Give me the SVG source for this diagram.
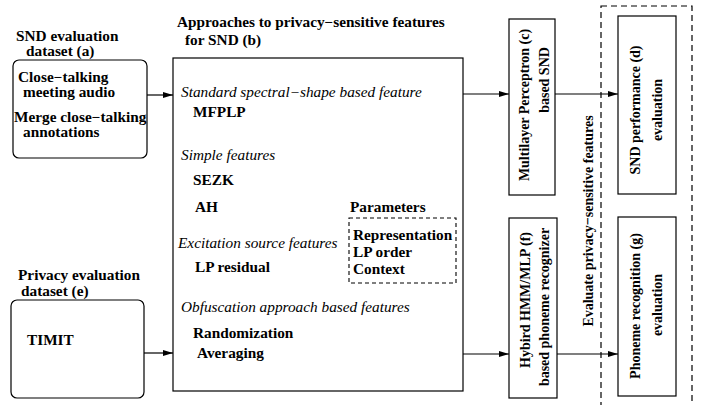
<svg xmlns="http://www.w3.org/2000/svg" width="707" height="405" viewBox="0 0 707 405" font-family="'Liberation Serif', 'Times New Roman', Times, serif" font-size="14">
<defs>
<marker id="arr" viewBox="0 0 10 6" refX="10" refY="3" markerWidth="10" markerHeight="6" markerUnits="userSpaceOnUse" orient="auto">
<path d="M0,0 L10,3 L0,6 Z" fill="#000"/>
</marker>
<style>
.b{font-weight:bold}
.i{font-style:italic}
.box{fill:#fff;stroke:#000;stroke-width:1.2}
.dash{fill:none;stroke:#000;stroke-width:1.2;stroke-dasharray:6 4}
.dash2{fill:none;stroke:#000;stroke-width:1.1;stroke-dasharray:4 3}
.con{stroke:#000;stroke-width:1.2;fill:none;marker-end:url(#arr)}
.v{text-anchor:middle}
</style>
</defs>
<rect width="707" height="405" fill="#fff"/>
<g id="evalgroup">
<rect class="dash" x="601" y="6" width="91" height="410"/>
</g>
<g id="connectors">
<line class="con" x1="147" y1="95" x2="173" y2="95"/>
<line class="con" x1="144" y1="353" x2="173" y2="353"/>
<line class="con" x1="463" y1="94" x2="509" y2="94"/>
<line class="con" x1="555" y1="94" x2="618" y2="94"/>
<line class="con" x1="463" y1="354" x2="509" y2="354"/>
<line class="con" x1="557" y1="354" x2="618" y2="354"/>
</g>
<g id="nodeA">
<text class="b" transform="translate(16,41) scale(1.094,1)">SND evaluation</text>
<text class="b" transform="translate(26,56) scale(1.094,1)">dataset (a)</text>
<rect class="box" x="13" y="60" width="134" height="98" rx="6"/>
<text class="b" transform="translate(18,82) scale(1.094,1)">Close−talking</text>
<text class="b" transform="translate(23,97) scale(1.094,1)">meeting audio</text>
<text class="b" transform="translate(14,122) scale(1.094,1)">Merge close−talking</text>
<text class="b" transform="translate(23,137) scale(1.094,1)">annotations</text>
</g>
<g id="nodeB">
<text class="b" transform="translate(177,27) scale(1.094,1)">Approaches to privacy−sensitive features</text>
<text class="b" transform="translate(185,45) scale(1.094,1)">for SND (b)</text>
<rect class="box" x="173" y="58" width="290" height="333"/>
<text class="i" transform="translate(181,97) scale(1.094,1)">Standard spectral−shape based feature</text>
<text class="b" transform="translate(193,117) scale(1.094,1)">MFPLP</text>
<text class="i" transform="translate(181,160) scale(1.094,1)">Simple features</text>
<text class="b" transform="translate(193,185) scale(1.094,1)">SEZK</text>
<text class="b" transform="translate(195,212) scale(1.094,1)">AH</text>
<text class="i" transform="translate(178,248) scale(1.094,1)">Excitation source features</text>
<text class="b" transform="translate(195,272) scale(1.094,1)">LP residual</text>
<text class="i" transform="translate(181,312) scale(1.094,1)">Obfuscation approach based features</text>
<text class="b" transform="translate(193,338) scale(1.094,1)">Randomization</text>
<text class="b" transform="translate(197,358) scale(1.094,1)">Averaging</text>
</g>
<g id="parameters">
<text class="b" transform="translate(350,212) scale(1.094,1)">Parameters</text>
<rect class="dash2" x="349" y="218" width="107" height="65"/>
<text class="b" transform="translate(353,240) scale(1.094,1)">Representation</text>
<text class="b" transform="translate(353,257) scale(1.094,1)">LP order</text>
<text class="b" transform="translate(353,274) scale(1.094,1)">Context</text>
</g>
<g id="nodeC">
<rect class="box" x="509" y="19" width="46" height="176"/>
<text class="b v" transform="translate(529,105) scale(1.094,1) rotate(-90)">Multilayer Perceptron (c)</text>
<text class="b v" transform="translate(549,80) scale(1.094,1) rotate(-90)">based SND</text>
</g>
<g id="nodeD">
<rect class="box" x="618" y="16" width="58" height="178"/>
<text class="b v" transform="translate(640,110) scale(1.094,1) rotate(-90)">SND performance (d)</text>
<text class="b v" transform="translate(662,110) scale(1.094,1) rotate(-90)">evaluation</text>
</g>
<g id="nodeE">
<text class="b" transform="translate(18,280) scale(1.094,1)">Privacy evaluation</text>
<text class="b" transform="translate(21,296) scale(1.094,1)">dataset (e)</text>
<rect class="box" x="11" y="300" width="133" height="98" rx="6"/>
<text class="b" transform="translate(27,345) scale(1.094,1)">TIMIT</text>
</g>
<g id="nodeF">
<rect class="box" x="509" y="218" width="48" height="180"/>
<text class="b v" transform="translate(530,300) scale(1.094,1) rotate(-90)">Hybird HMM/MLP (f)</text>
<text class="b v" transform="translate(549,307) scale(1.094,1) rotate(-90)">based phoneme recognizer</text>
</g>
<g id="nodeG">
<rect class="box" x="618" y="217" width="58" height="179"/>
<text class="b v" transform="translate(640,306) scale(1.094,1) rotate(-90)">Phoneme recognition (g)</text>
<text class="b v" transform="translate(662,305) scale(1.094,1) rotate(-90)">evaluation</text>
</g>
<g id="evalLabel">
<text class="b v" transform="translate(593,221) scale(1.094,1) rotate(-90)">Evaluate privacy−sensitive features</text>
</g>
</svg>
